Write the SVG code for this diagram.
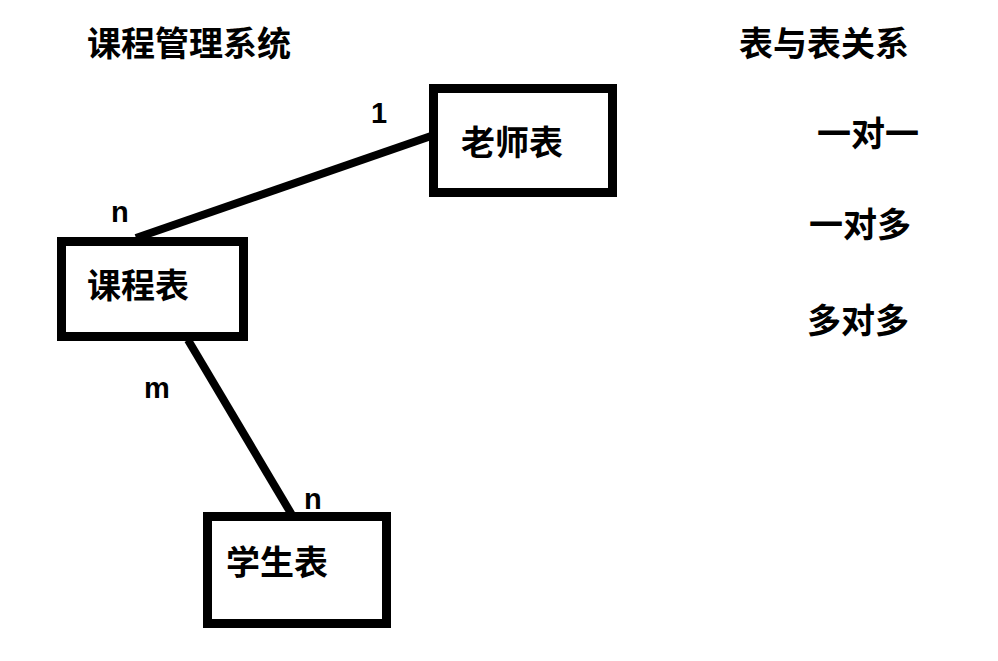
<svg xmlns="http://www.w3.org/2000/svg" width="998" height="661" viewBox="0 0 998 661">
<style>
.box{fill:#fff;stroke:#000;stroke-width:9}
.cn{font-family:"Noto Sans CJK SC","Noto Sans",sans-serif;font-weight:bold;font-size:34px;fill:#000}
.lb{font-family:"Liberation Sans",Arial,sans-serif;font-weight:bold;font-size:29px;fill:#000}
.ln{stroke:#000;stroke-width:8;fill:none}
</style>
<rect width="998" height="661" fill="#fff"/>
<text class="cn" x="87" y="56">课程管理系统</text>
<text class="cn" x="739" y="56">表与表关系</text>
<text class="cn" x="817" y="146">一对一</text>
<text class="cn" x="809" y="237">一对多</text>
<text class="cn" x="807" y="333">多对多</text>
<g id="connectors">
<line class="ln" x1="136" y1="238" x2="434" y2="135"/>
<line class="ln" x1="188" y1="340" x2="292" y2="515"/>
<text class="lb" x="371" y="123">1</text>
<text class="lb" x="111" y="222">n</text>
<text class="lb" x="144" y="398">m</text>
<text class="lb" x="304" y="509">n</text>
</g>
<g id="teacher">
<rect class="box" x="433.5" y="88.5" width="179" height="104"/>
<text class="cn" x="461" y="155">老师表</text>
</g>
<g id="course">
<rect class="box" x="61.5" y="241.5" width="182" height="95"/>
<text class="cn" x="87" y="298">课程表</text>
</g>
<g id="student">
<rect class="box" x="207.5" y="516.5" width="179" height="107"/>
<text class="cn" x="226" y="575">学生表</text>
</g>
</svg>
